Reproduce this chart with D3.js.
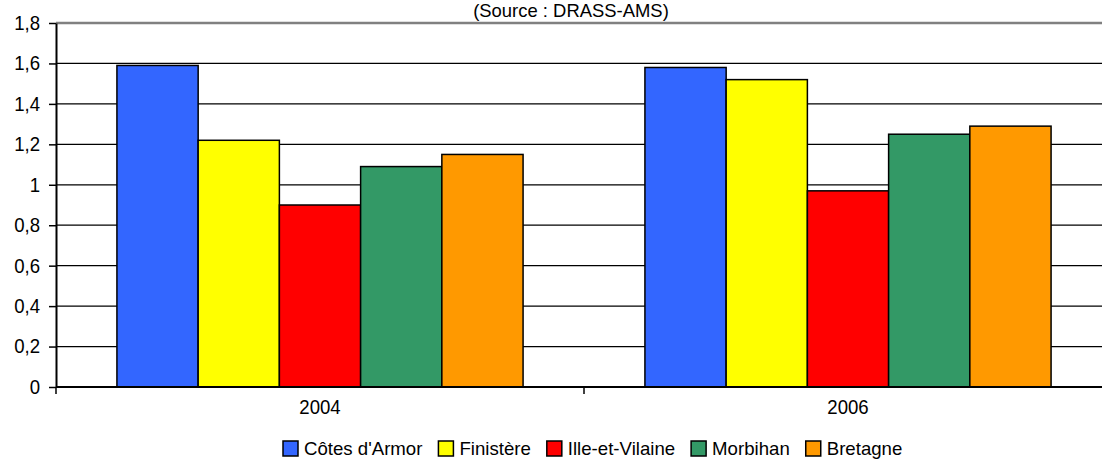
<!DOCTYPE html>
<html>
<head>
<meta charset="utf-8">
<script src="https://cdn.jsdelivr.net/npm/d3@7"></script>
<style>
body { margin: 0; background: #fff; }
svg text { font-family: "Liberation Sans", Arial, sans-serif; fill: #000; }
</style>
</head>
<body>
<div id="chart"></div>
<script>
var years = ["2004", "2006"];
var departements = ["Côtes d'Armor", "Finistère", "Ille-et-Vilaine", "Morbihan", "Bretagne"];
var colors = ["#3366ff", "#ffff00", "#ff0000", "#339966", "#ff9900"];
var values2004 = [1.59, 1.22, 0.90, 1.09, 1.15];
var values2006 = [1.58, 1.52, 0.97, 1.25, 1.29];
var yTicks = [0, 0.2, 0.4, 0.6, 0.8, 1, 1.2, 1.4, 1.6, 1.8];

var svgWidth = 1102;
var svgHeight = 460;
var plot = { left: 56, right: 1112, top: 23, bottom: 387 };
var fontSize = "20px";
var squeeze = 0.93; // the original text is a bit condensed

var svg = d3.select("#chart")
            .append("svg")
            .attr("width", svgWidth)
            .attr("height", svgHeight);

// condense a text a little, like the original
function condense(sel, k) {
    k = k || squeeze;
    sel.each(function() {
        var w = this.getComputedTextLength();
        d3.select(this).attr("textLength", w * k).attr("lengthAdjust", "spacingAndGlyphs");
    });
}

var fr = d3.formatLocale({ decimal: ",", thousands: " ", grouping: [3], currency: ["", " €"] });
var fmt = fr.format("~g");

var x0 = d3.scaleBand().domain(years).range([plot.left, plot.right]);
// gap width 150% -> 0.75 of a bar on each side
var x1 = d3.scaleBand().domain(departements).range([0, x0.bandwidth()]).paddingInner(0).paddingOuter(0.75);
var y = d3.scaleLinear().domain([0, 1.8]).range([plot.bottom, plot.top]);

var data = years.map(function(yr, i) {
    var vals = i === 0 ? values2004 : values2006;
    return { year: yr, values: departements.map(function(d, j) { return { name: d, value: vals[j], color: colors[j] }; }) };
});

// gridlines
svg.append("g")
   .selectAll("line")
   .data(yTicks.filter(function(t) { return t > 0 && t < 1.8; }))
   .enter()
   .append("line")
   .attr("x1", plot.left)
   .attr("x2", plot.right)
   .attr("y1", function(d) { return y(d); })
   .attr("y2", function(d) { return y(d); })
   .attr("stroke", "#000")
   .attr("stroke-width", 1.3);

// top border of plot area
svg.append("line")
   .attr("x1", plot.left).attr("x2", plot.right)
   .attr("y1", y(1.8)).attr("y2", y(1.8))
   .attr("stroke", "#808080")
   .attr("stroke-width", 2.5);

// bars
var groups = svg.selectAll(".grp")
                .data(data)
                .enter()
                .append("g")
                .attr("class", "grp")
                .attr("transform", function(d) { return "translate(" + x0(d.year) + ",0)"; });

groups.selectAll("rect")
      .data(function(d) { return d.values; })
      .enter()
      .append("rect")
      .attr("x", function(d) { return x1(d.name); })
      .attr("width", x1.bandwidth())
      .attr("y", function(d) { return y(d.value); })
      .attr("height", function(d) { return y(0) - y(d.value); })
      .attr("fill", function(d) { return d.color; })
      .attr("stroke", "#000")
      .attr("stroke-width", 1.5);

// y axis
var yAxis = svg.append("g")
               .attr("transform", "translate(" + plot.left + ",0)")
               .call(d3.axisLeft(y).tickValues(yTicks).tickFormat(fmt).tickSizeInner(7).tickSizeOuter(0).tickPadding(9));
yAxis.select(".domain").attr("stroke", "#000").attr("stroke-width", 2);
yAxis.selectAll(".tick line").attr("stroke", "#000").attr("stroke-width", 1.5);
yAxis.selectAll("text")
     .attr("font-size", fontSize)
     .attr("font-family", "Liberation Sans, Arial, sans-serif")
     .call(condense);

// x axis
var xAxis = svg.append("g")
               .attr("transform", "translate(0," + plot.bottom + ")");
xAxis.append("line")
     .attr("x1", plot.left).attr("x2", plot.right)
     .attr("stroke", "#000").attr("stroke-width", 2);
xAxis.selectAll(".xt")
     .data([plot.left, x0("2006"), plot.right])
     .enter()
     .append("line")
     .attr("class", "xt")
     .attr("x1", function(d) { return d; })
     .attr("x2", function(d) { return d; })
     .attr("y1", 0).attr("y2", 7)
     .attr("stroke", "#000").attr("stroke-width", 1.5);
xAxis.selectAll(".xl")
     .data(years)
     .enter()
     .append("text")
     .attr("class", "xl")
     .attr("x", function(d) { return x0(d) + x0.bandwidth() / 2; })
     .attr("y", 27)
     .attr("text-anchor", "middle")
     .attr("font-size", fontSize)
     .text(function(d) { return d; })
     .call(condense);

// source line (the title above it is cut off in the original)
svg.append("text")
   .attr("x", 571)
   .attr("y", 17)
   .attr("text-anchor", "middle")
   .attr("font-size", "19px")
   .text("(Source : DRASS-AMS)")
   .call(condense, 0.97);

// legend
var legend = svg.append("g").attr("transform", "translate(283,441)");
var lx = 0;
departements.forEach(function(d, i) {
    var item = legend.append("g").attr("transform", "translate(" + lx + ",0)");
    item.append("rect")
        .attr("width", 15).attr("height", 15)
        .attr("fill", colors[i])
        .attr("stroke", "#000").attr("stroke-width", 1.5);
    var t = item.append("text")
                .attr("x", 21)
                .attr("y", 14)
                .attr("font-size", "19px")
                .text(d);
    var w = t.node().getComputedTextLength() * 0.98;
    t.call(condense, 0.98);
    lx += 21 + w + 16;
});
</script>
</body>
</html>
